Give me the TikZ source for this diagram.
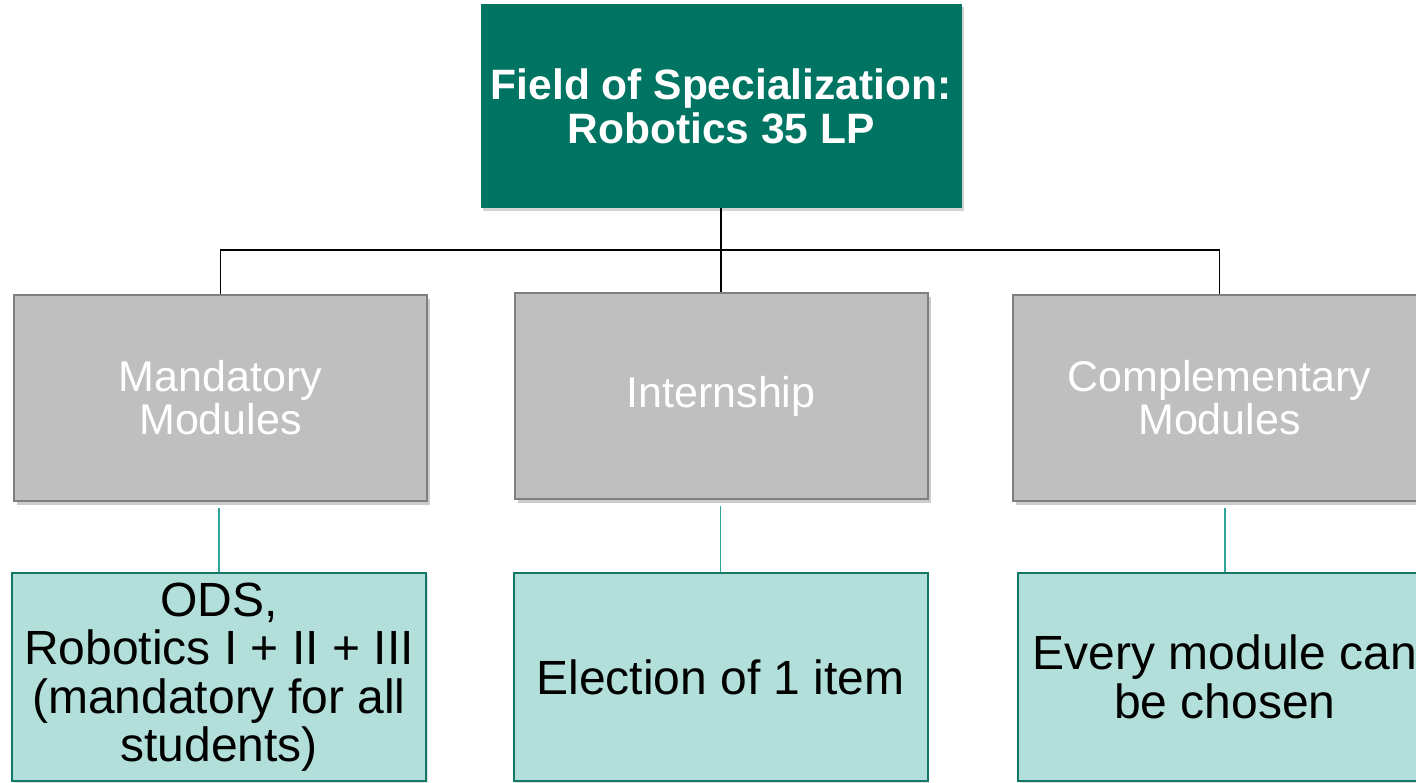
\documentclass[tikz,border=0pt]{standalone}
\usepackage{fontspec}
\setmainfont{Liberation Sans}
\usetikzlibrary{shadows}
\definecolor{fieldgreen}{HTML}{007462}
\definecolor{boxgray}{HTML}{BFBFBF}
\definecolor{rimgray}{HTML}{7F7F7F}
\definecolor{paleteal}{HTML}{B2DFDA}
\definecolor{rimteal}{HTML}{137767}
\definecolor{linkteal}{HTML}{2EA597}
\tikzset{
  fieldbox/.style={fill=fieldgreen,text=white,align=center,inner sep=0pt,
    minimum width=481pt,minimum height=204pt,
    font=\fontsize{42.5}{44}\selectfont\bfseries,
    drop shadow={shadow xshift=2pt,shadow yshift=-3pt,opacity=.35}},
  groupbox/.style={draw=rimgray,line width=2pt,fill=boxgray,text=white,align=center,
    inner sep=0pt,minimum width=413pt,minimum height=206pt,
    font=\fontsize{43}{43}\selectfont,
    drop shadow={shadow xshift=3pt,shadow yshift=-4pt,opacity=.4}},
  rulebox/.style={draw=rimteal,line width=2pt,fill=paleteal,text=black,align=center,
    inner sep=0pt,minimum width=414pt,minimum height=208pt,
    font=\fontsize{48}{48.5}\selectfont,
    drop shadow={shadow xshift=1.5pt,shadow yshift=-1.5pt,opacity=.25}},
  tree/.style={line width=1.5pt,black},
  branch/.style={line width=1.5pt,linkteal,shorten <=6pt}
}
\begin{document}
\begin{tikzpicture}[x=1pt,y=-1pt]
  \useasboundingbox (0,0) rectangle (1416,782);
  \clip (0,0) rectangle (1416,782);

  % top of the tree
  \node[fieldbox] (field) at (721,106) {Field of Specialization:\\Robotics 35 LP};

  % module groups
  \node[groupbox] (mand)   at (220.5,397.5) {Mandatory\\Modules};
  \node[groupbox] (intern) at (721,396)     {Internship};
  \node[groupbox] (compl)  at (1219.5,397.5){Complementary\\Modules};

  % what is taken from each group
  \node[rulebox] (ods)      at (219,677)   {ODS,\\Robotics I + II + III\\(mandatory for all\\students)};
  \node[rulebox] (election) at (720.5,677) {Election of 1 item};
  \node[rulebox] (every)    at (1225,677)  {Every module can\\be chosen};

  \coordinate (bus) at (721,250);
  \draw[tree] (field.south) -- (bus) -| (mand.north);
  \draw[tree] (bus) -| (compl.north);
  \draw[tree] (bus) -- (intern.north);

  \draw[branch] (ods.north |- mand.south)           -- (ods.north);
  \draw[branch] (election.north |- intern.south)    -- (election.north);
  \draw[branch] (every.north |- compl.south)        -- (every.north);
\end{tikzpicture}
\end{document}
